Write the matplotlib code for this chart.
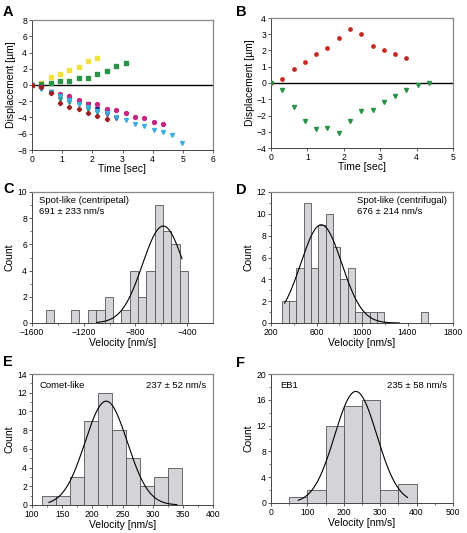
import numpy as np
import matplotlib
matplotlib.use("Agg")
import matplotlib.pyplot as plt
from matplotlib.ticker import MultipleLocator

plt.rcParams['font.family'] = ['Liberation Sans', 'DejaVu Sans']

# ---- panel A data (time step ~0.31 s) ----
dt = 0.31
a_yellow = [0, 0.3, 1.0, 1.35, 1.8, 2.25, 2.95, 3.3]
a_green = [0, 0.1, 0.2, 0.55, 0.55, 0.85, 0.9, 1.4, 1.7, 2.4, 2.75]
a_magenta = [0, -0.2, -0.9, -1.1, -1.4, -1.9, -2.3, -2.4, -2.9, -3.1, -3.4, -3.9, -4.1, -4.6, -4.8]
a_cyan = [0, -0.5, -0.9, -1.3, -1.8, -2.4, -2.7, -3.2, -3.5, -3.9, -4.3, -4.8, -5.0, -5.6, -5.8, -6.1, -7.2]
a_darkred = [0, -0.3, -1.0, -2.2, -2.7, -3.0, -3.5, -3.85, -4.2]
a_navy = [0, -0.3, -0.9, -1.3, -1.7, -2.1, -2.3, -2.9, -3.6, -4.1]
a_teal = [0, -0.4, -0.9, -1.7, -2.1, -2.4, -3.0, -3.3]

# ---- panel B data ----
b_red = [0, 0.25, 0.85, 1.3, 1.8, 2.15, 2.75, 3.35, 3.0, 2.3, 2.05, 1.8, 1.55]
b_green = [0, -0.45, -1.45, -2.35, -2.85, -2.75, -3.1, -2.35, -1.75, -1.65, -1.15, -0.8, -0.45, -0.1, 0.0]

# ---- histograms: bin start, bin width, counts, gaussian fit (amp, mean, sigma, range) ----
c_start, c_width = -1492, 64.7
c_counts = [1, 0, 0, 1, 0, 1, 1, 2, 0, 1, 4, 2, 4, 9, 7, 6, 4]
c_fit = (7.4, -585, 160, -1100, -440)
c_ticks = [-1600, -1200, -800, -400]

d_start, d_width = 294, 64.5
d_counts = [2, 2, 5, 11, 5, 9, 10, 7, 4, 5, 1, 1, 1, 1, 0, 0, 0, 0, 0, 1]
d_fit = (9.0, 642, 180, 320, 1330)
d_ticks = [200, 600, 1000, 1400, 1800]

e_start, e_width = 116, 23.2
e_counts = [1, 1, 3, 9, 12, 8, 5, 2, 3, 4]
e_fit = (11.1, 223, 35, 128, 340)
e_ticks = [100, 150, 200, 250, 300, 350, 400]

f_start, f_width = 50, 50
f_counts = [1, 2, 12, 15, 16, 2, 3]
f_fit = (17.3, 233, 58, 75, 375)
f_ticks = [0, 100, 200, 300, 400, 500]

fig = plt.figure(figsize=(4.67, 5.33), dpi=100)

W, H = 467, 533
def add_ax(l, r, t, b):
    return fig.add_axes([l / W, 1 - b / H, (r - l) / W, (b - t) / H])

axA = add_ax(32, 213, 20, 150)
axB = add_ax(271, 453, 18, 148)
axC = add_ax(32, 213, 192, 323)
axD = add_ax(271, 453, 192, 323)
axE = add_ax(32, 213, 374, 505)
axF = add_ax(271, 453, 374, 503)

def style(ax):
    ax.tick_params(labelsize=6.2, length=2.5, width=0.6, pad=1, color='#444444')
    ax.tick_params(which='minor', length=1.5, width=0.5, color='#444444')
    for s in ['left', 'bottom']:
        ax.spines[s].set_color('#444444')
        ax.spines[s].set_linewidth(0.7)
    for s in ['top', 'right']:
        ax.spines[s].set_color('#888888')
        ax.spines[s].set_linewidth(0.9)

def t_of(vals):
    return np.arange(len(vals)) * dt

# panel A
ms = 2.8
axA.axhline(0, color='black', lw=1.0, zorder=1)
axA.plot(t_of(a_yellow), a_yellow, 's', color='#f2e23a', ms=ms, mec='#f2e23a', zorder=3)
axA.plot(t_of(a_green), a_green, 's', color='#2a9446', ms=ms, zorder=3)
axA.plot(t_of(a_teal), a_teal, 'v', color='#2a9a7c', ms=ms, zorder=3)
axA.plot(t_of(a_navy), a_navy, 'v', color='#1e2a78', ms=ms, zorder=3)
axA.plot(t_of(a_magenta), a_magenta, 'o', color='#c8267f', ms=ms, zorder=3)
axA.plot(t_of(a_cyan), a_cyan, 'v', color='#39aee0', ms=ms, zorder=3)
axA.plot(t_of(a_darkred), a_darkred, 'P', color='#9a2020', ms=ms, zorder=4)
axA.set_xlim(0, 6)
axA.set_ylim(-8, 8)
axA.xaxis.set_major_locator(MultipleLocator(1))
axA.yaxis.set_major_locator(MultipleLocator(2))
axA.set_xlabel('Time [sec]', fontsize=7.5, labelpad=0)
axA.set_ylabel('Displacement [µm]', fontsize=7.5, labelpad=1)
style(axA)

# panel B
axB.axhline(0, color='black', lw=1.0, zorder=1)
axB.plot(t_of(b_red), b_red, 'o', color='#c8281e', ms=2.4, zorder=3)
axB.plot(t_of(b_green), b_green, 'v', color='#2a9446', ms=2.9, zorder=3)
axB.set_xlim(0, 5)
axB.set_ylim(-4, 4)
axB.xaxis.set_major_locator(MultipleLocator(1))
axB.yaxis.set_major_locator(MultipleLocator(1))
axB.set_xlabel('Time [sec]', fontsize=7.5, labelpad=0)
axB.set_ylabel('Displacement [µm]', fontsize=7.5, labelpad=1)
style(axB)

def hist_panel(ax, start, width, counts, fit, ticks, ylim, ystep):
    edges = start + width * np.arange(len(counts) + 1)
    ax.hist(edges[:-1], bins=edges, weights=counts, color='#d4d4d8',
            edgecolor='#555555', linewidth=0.6, zorder=2)
    amp, mu, sig, x0, x1 = fit
    xs = np.linspace(x0, x1, 200)
    ax.plot(xs, amp * np.exp(-(xs - mu) ** 2 / (2 * sig ** 2)), color='black', lw=0.8, zorder=3)
    ax.set_xlim(ticks[0], ticks[-1] + (200 if ticks[-1] == -400 else 0))
    ax.set_ylim(*ylim)
    ax.set_xticks(ticks)
    step = ticks[1] - ticks[0]
    ax.set_xticks(np.arange(ticks[0] + step / 2, ax.get_xlim()[1], step), minor=True)
    ax.yaxis.set_major_locator(MultipleLocator(ystep))
    ax.yaxis.set_minor_locator(MultipleLocator(ystep / 2))
    ax.set_xlabel('Velocity [nm/s]', fontsize=7.5, labelpad=1)
    ax.set_ylabel('Count', fontsize=7.5, labelpad=2)
    style(ax)

hist_panel(axC, c_start, c_width, c_counts, c_fit, c_ticks, (0, 10), 2)
hist_panel(axD, d_start, d_width, d_counts, d_fit, d_ticks, (0, 12), 2)
hist_panel(axE, e_start, e_width, e_counts, e_fit, e_ticks, (0, 14), 2)
hist_panel(axF, f_start, f_width, f_counts, f_fit, f_ticks, (0, 20), 4)

tfs = 6.8
axC.text(0.04, 0.97, 'Spot-like (centripetal)\n691 ± 233 nm/s', transform=axC.transAxes,
         fontsize=tfs, va='top', ha='left', linespacing=1.35)
axD.text(0.475, 0.97, 'Spot-like (centrifugal)\n676 ± 214 nm/s', transform=axD.transAxes,
         fontsize=tfs, va='top', ha='left', linespacing=1.35)
axE.text(0.04, 0.945, 'Comet-like', transform=axE.transAxes, fontsize=tfs, va='top', ha='left')
axE.text(0.96, 0.945, '237 ± 52 nm/s', transform=axE.transAxes, fontsize=tfs, va='top', ha='right')
axF.text(0.05, 0.945, 'EB1', transform=axF.transAxes, fontsize=tfs, va='top', ha='left')
axF.text(0.965, 0.945, '235 ± 58 nm/s', transform=axF.transAxes, fontsize=tfs, va='top', ha='right')

# panel letters
for letter, x, y in [('A', 3, 5), ('B', 236, 5), ('C', 3, 182), ('D', 236, 183),
                     ('E', 3, 355), ('F', 236, 356)]:
    fig.text(x / W, 1 - y / H, letter, fontsize=10.5, fontweight='bold', va='top', ha='left')

fig.savefig('out.png', dpi=100)
